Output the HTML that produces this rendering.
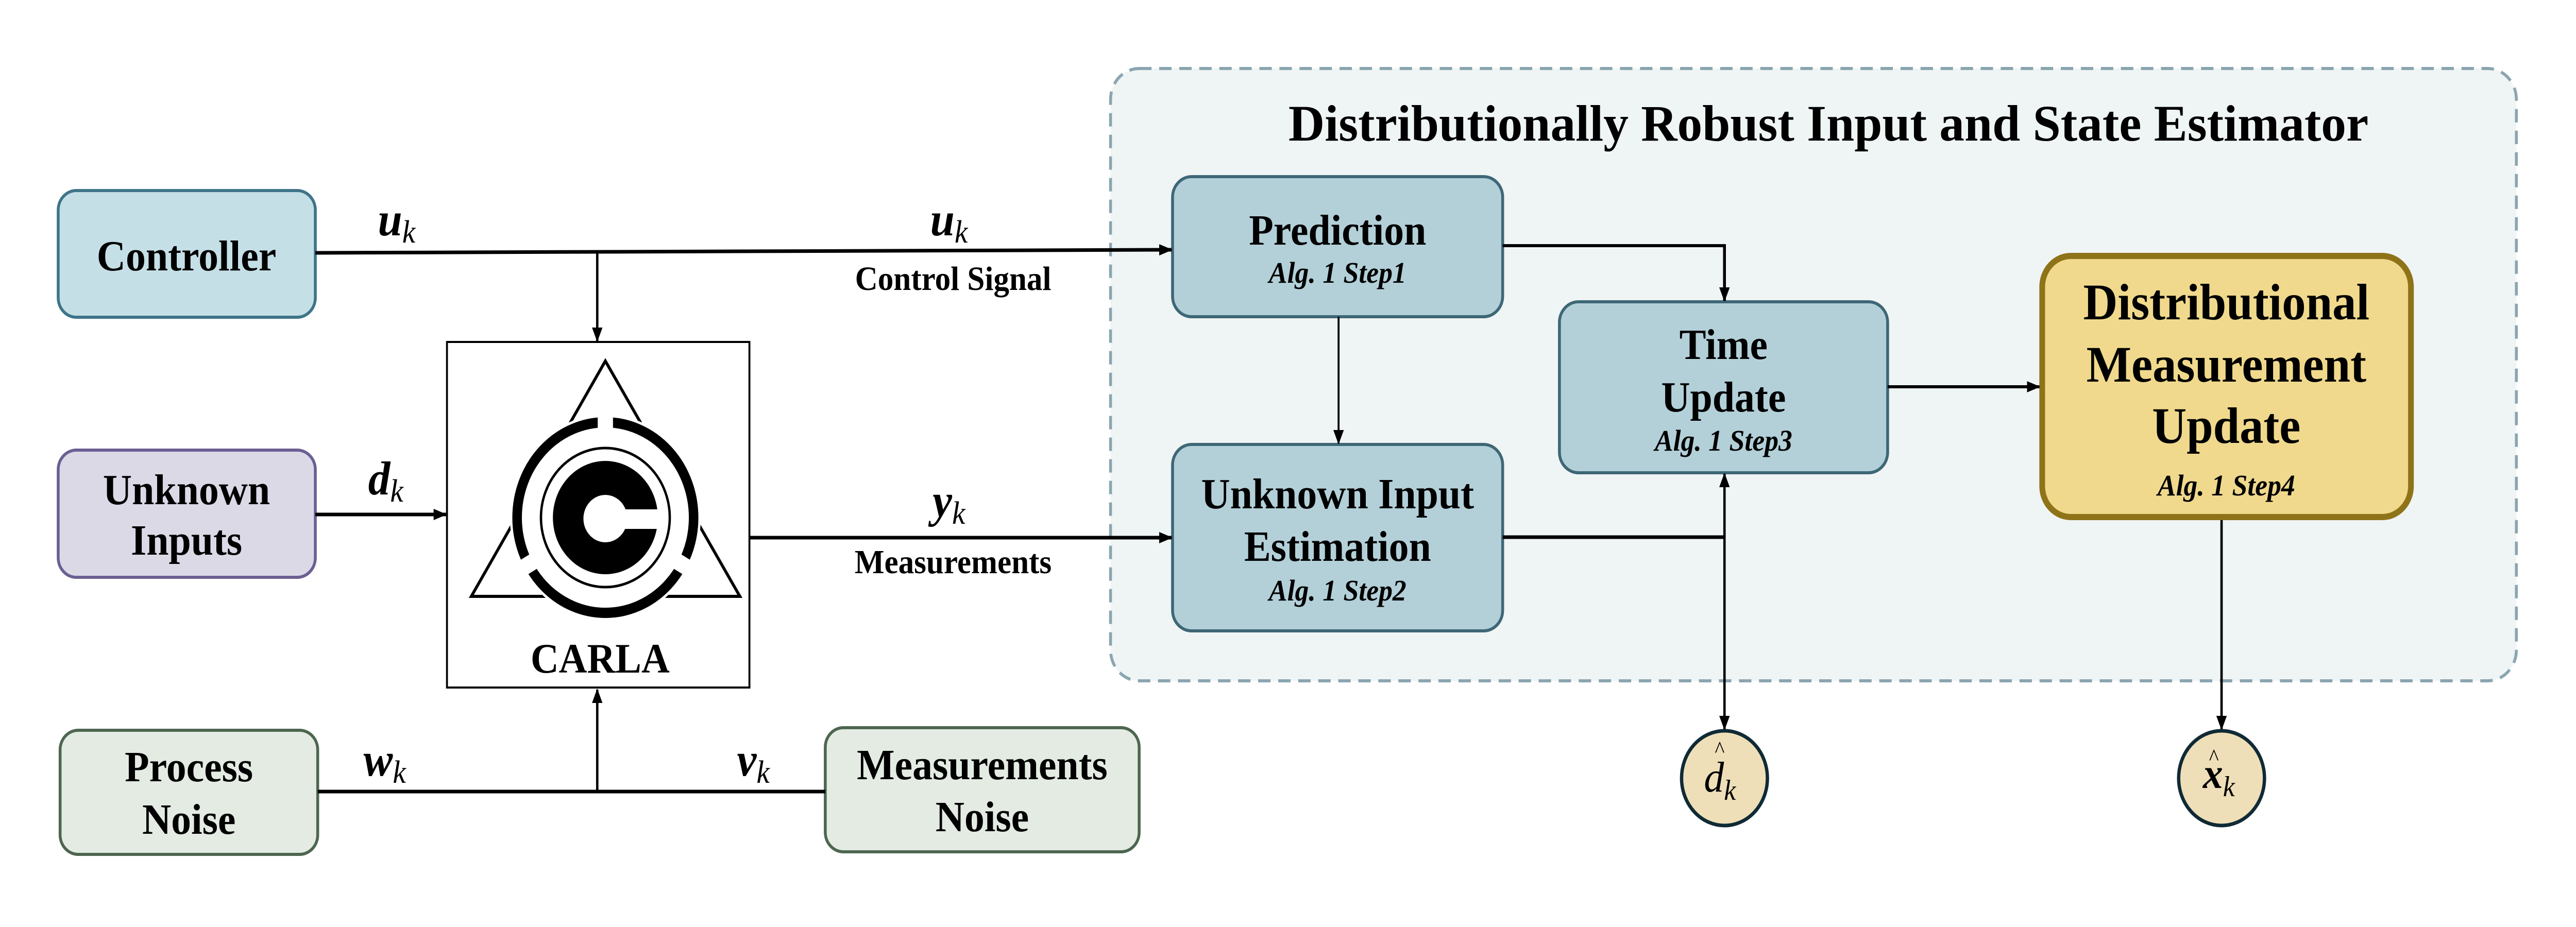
<!DOCTYPE html>
<html><head><meta charset="utf-8"><style>
html,body{margin:0;padding:0;background:#fff;overflow:hidden;}
svg{display:block;position:fixed;left:0;top:0;width:100vw;height:100vh;}
text{font-family:"Liberation Serif",serif;}
.b{font-weight:bold;fill:#000;}
.m{font-style:italic;font-weight:bold;}
.s{font-style:italic;font-weight:normal;}
</style></head><body>
<svg viewBox="0 0 5400 1800" preserveAspectRatio="none" xmlns="http://www.w3.org/2000/svg">
<defs>
<marker id="a" markerUnits="userSpaceOnUse" markerWidth="28" markerHeight="22" refX="26" refY="11" orient="auto">
<path d="M0,0 L28,11 L0,22 Z" fill="#000"/>
</marker>
</defs>
<!-- container -->
<rect x="2328" y="133" width="2947" height="1189" rx="60" fill="#eff4f4" stroke="#8aa5b0" stroke-width="6" stroke-dasharray="26,16"/>
<text x="2701" y="273" class="b" font-size="100" textLength="2264" lengthAdjust="spacingAndGlyphs">Distributionally Robust Input and State Estimator</text>

<!-- left boxes -->
<rect x="122" y="370" width="539" height="246" rx="38" fill="#c5dfe6" stroke="#3e7488" stroke-width="6"/>
<text x="391" y="525" class="b" font-size="84" text-anchor="middle">Controller</text>
<rect x="122" y="874" width="539" height="247" rx="38" fill="#dcd9e7" stroke="#6b5f92" stroke-width="6"/>
<text x="391" y="979" class="b" font-size="84" text-anchor="middle">Unknown</text>
<text x="391" y="1077" class="b" font-size="84" text-anchor="middle">Inputs</text>
<rect x="126" y="1418" width="540" height="241" rx="38" fill="#e3ebe3" stroke="#4d6650" stroke-width="6"/>
<text x="396" y="1517" class="b" font-size="84" text-anchor="middle">Process</text>
<text x="396" y="1619" class="b" font-size="84" text-anchor="middle">Noise</text>
<rect x="1730" y="1413" width="658" height="241" rx="38" fill="#e3ebe3" stroke="#4d6650" stroke-width="6"/>
<text x="2059" y="1513" class="b" font-size="84" text-anchor="middle">Measurements</text>
<text x="2059" y="1614" class="b" font-size="84" text-anchor="middle">Noise</text>

<!-- CARLA -->
<rect x="937" y="664" width="634" height="671" fill="#fff" stroke="#000" stroke-width="4"/>
<g transform="translate(937,664)">
<path d="M332,37 L51,494 L614,494 Z" fill="none" stroke="#000" stroke-width="6"/>
<circle cx="332" cy="341" r="200" fill="#fff" stroke="none"/>
<circle cx="332" cy="341" r="185" fill="none" stroke="#000" stroke-width="20"/>
<g stroke="#fff" stroke-width="32">
<line x1="332" y1="130" x2="332" y2="170"/>
<line x1="150" y1="444" x2="185" y2="424"/>
<line x1="514" y1="444" x2="479" y2="424"/>
</g>
<circle cx="332" cy="341" r="135" fill="none" stroke="#000" stroke-width="5"/>
<circle cx="332" cy="341" r="110" fill="#000"/>
<circle cx="332" cy="343" r="46" fill="#fff"/>
<rect x="332" y="325" width="115" height="38" fill="#fff"/>
</g>
<text x="1258" y="1306" class="b" font-size="82" text-anchor="middle">CARLA</text>

<!-- estimator boxes -->
<rect x="2458" y="343" width="692" height="272" rx="40" fill="#b3d0d9" stroke="#3e6776" stroke-width="6"/>
<text x="2804" y="475" class="b" font-size="84" text-anchor="middle">Prediction</text>
<text x="2804" y="549" class="m" font-size="58" text-anchor="middle">Alg. 1 Step1</text>
<rect x="2458" y="863" width="692" height="362" rx="40" fill="#b3d0d9" stroke="#3e6776" stroke-width="6"/>
<text x="2804" y="987" class="b" font-size="84" text-anchor="middle">Unknown Input</text>
<text x="2804" y="1089" class="b" font-size="84" text-anchor="middle">Estimation</text>
<text x="2804" y="1166" class="m" font-size="58" text-anchor="middle">Alg. 1 Step2</text>
<rect x="3269" y="586" width="688" height="332" rx="40" fill="#b3d0d9" stroke="#3e6776" stroke-width="6"/>
<text x="3613" y="697" class="b" font-size="84" text-anchor="middle">Time</text>
<text x="3613" y="799" class="b" font-size="84" text-anchor="middle">Update</text>
<text x="3613" y="875" class="m" font-size="58" text-anchor="middle">Alg. 1 Step3</text>
<rect x="4281" y="497" width="773" height="507" rx="60" fill="#f0d98c" stroke="#8f7318" stroke-width="12"/>
<text x="4667" y="620" class="b" font-size="100" text-anchor="middle">Distributional</text>
<text x="4667" y="741" class="b" font-size="100" text-anchor="middle">Measurement</text>
<text x="4667" y="860" class="b" font-size="100" text-anchor="middle">Update</text>
<text x="4667" y="962" class="m" font-size="58" text-anchor="middle">Alg. 1 Step4</text>

<!-- connectors -->
<g fill="none" stroke="#000" stroke-width="7">
<path d="M661,491 L2456,485" marker-end="url(#a)"/>
<path d="M1252,491 V662" stroke-width="5" marker-end="url(#a)"/>
<path d="M661,999 H935" marker-end="url(#a)"/>
<path d="M1572,1044 H2456" marker-end="url(#a)"/>
<path d="M666,1537 H1730"/>
<path d="M1252,1537 V1339" stroke-width="5" marker-end="url(#a)"/>
<path d="M2806,615 V861" stroke-width="4" marker-end="url(#a)"/>
<path d="M3150,477 H3615 V584" stroke-width="6" marker-end="url(#a)"/>
<path d="M3957,751 H4275" stroke-width="6" marker-end="url(#a)"/>
<path d="M3150,1043 H3615"/>
<path d="M3615,1043 V920" stroke-width="5" marker-end="url(#a)"/>
<path d="M3615,1043 V1416" stroke-width="5" marker-end="url(#a)"/>
<path d="M4657,1010 V1416" stroke-width="5" marker-end="url(#a)"/>
</g>

<!-- signal labels -->
<text x="792" y="457" class="m" font-size="92">u<tspan class="s" font-size="62" dy="14">k</tspan></text>
<text x="1950" y="457" class="m" font-size="92">u<tspan class="s" font-size="62" dy="14">k</tspan></text>
<text x="1998" y="563" class="b" font-size="66" text-anchor="middle">Control Signal</text>
<text x="772" y="960" class="m" font-size="92">d<tspan class="s" font-size="62" dy="14">k</tspan></text>
<text x="1955" y="1003" class="m" font-size="92">y<tspan class="s" font-size="62" dy="14">k</tspan></text>
<text x="1998" y="1113" class="b" font-size="66" text-anchor="middle">Measurements</text>
<text x="762" y="1506" class="m" font-size="92">w<tspan class="s" font-size="62" dy="14">k</tspan></text>
<text x="1545" y="1506" class="m" font-size="92">v<tspan class="s" font-size="62" dy="14">k</tspan></text>

<!-- outputs -->
<ellipse cx="3615" cy="1511" rx="90" ry="92" fill="#eedfb8" stroke="#102a35" stroke-width="7"/>
<text x="3572" y="1537" class="s" font-size="84">d<tspan font-size="56" dy="16">k</tspan></text>
<text x="3605" y="1470" font-size="44" text-anchor="middle">^</text>
<ellipse cx="4657" cy="1511" rx="90" ry="92" fill="#eedfb8" stroke="#102a35" stroke-width="7"/>
<text x="4618" y="1530" class="m" font-size="84">x<tspan class="s" font-size="56" dy="16">k</tspan></text>
<text x="4641" y="1485" font-size="44" text-anchor="middle">^</text>
</svg>
</body></html>
